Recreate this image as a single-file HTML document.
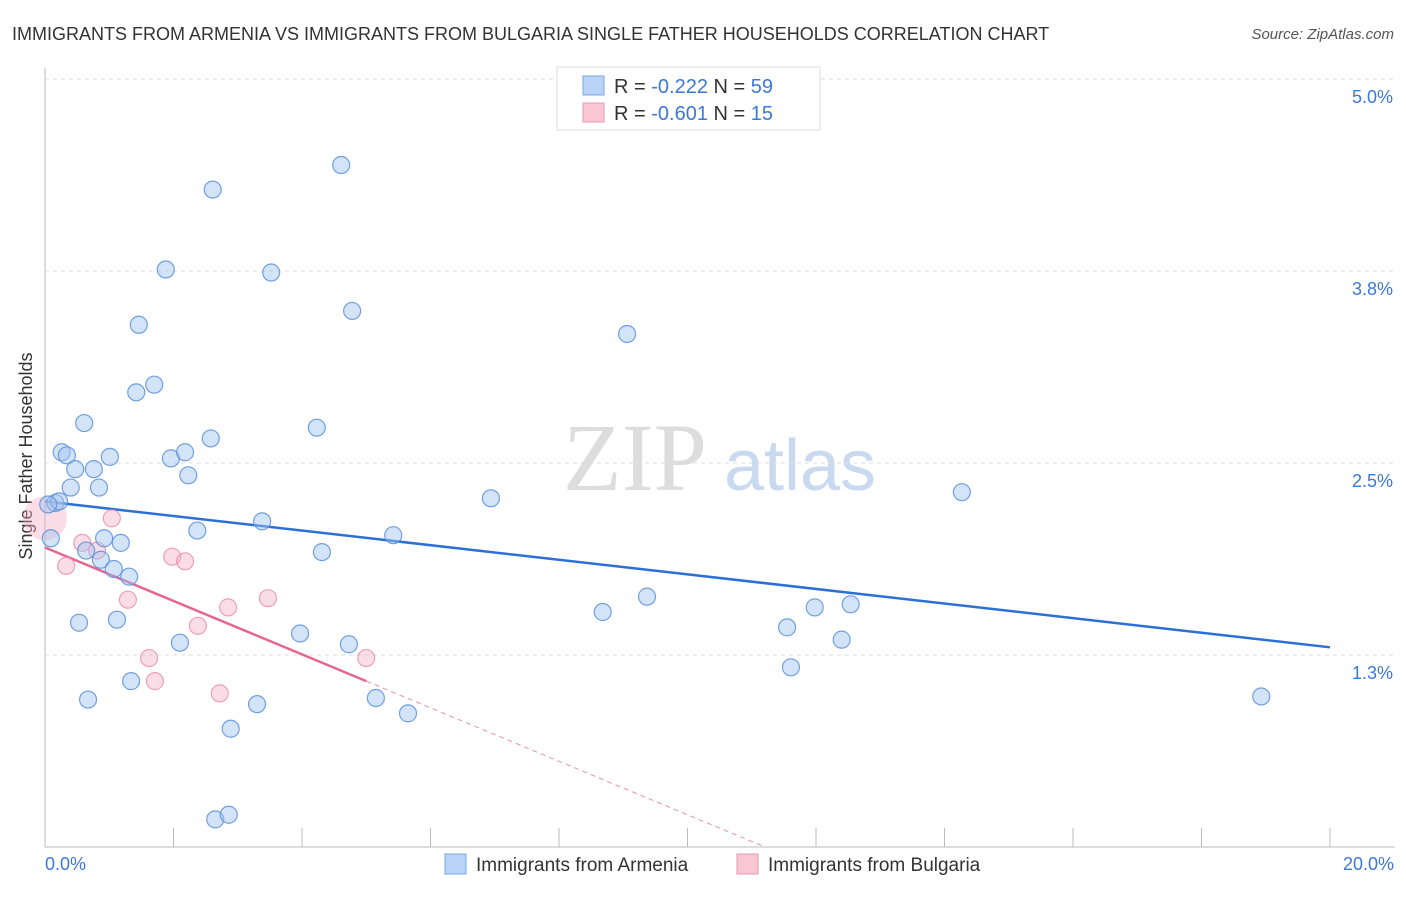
<!DOCTYPE html>
<html><head><meta charset="utf-8"><style>
body{margin:0;background:#fff;font-family:"Liberation Sans",sans-serif;}
</style></head><body>
<svg id="chart" width="1406" height="892" xmlns="http://www.w3.org/2000/svg">
<text x="12" y="40" font-size="18" fill="#333">IMMIGRANTS FROM ARMENIA VS IMMIGRANTS FROM BULGARIA SINGLE FATHER HOUSEHOLDS CORRELATION CHART</text>
<text x="1394" y="39" font-size="15" fill="#555" font-style="italic" text-anchor="end">Source: ZipAtlas.com</text>
<text x="32" y="456" font-size="18" fill="#333" text-anchor="middle" transform="rotate(-90 32 456)">Single Father Households</text>
<g><text x="635" y="490" font-size="96" fill="#ddd" font-family="Liberation Serif,serif" text-anchor="middle">ZIP</text><text x="800" y="490" font-size="72" fill="#c8d9f0" text-anchor="middle">atlas</text></g>
<g id="grid"></g><g id="axes"></g><g id="lines"></g><g id="pts"></g>
<g>
<rect x="557" y="67" width="263" height="63" fill="#fff" stroke="#ddd"/>
<rect x="583" y="76" width="21" height="19" fill="#b9d3f6" stroke="#7aa5e6"/>
<rect x="583" y="103" width="21" height="19" fill="#f9c6d4" stroke="#ec9ab3"/>
<text x="614" y="93" font-size="20" fill="#333">R = <tspan fill="#3b78d8">-0.222</tspan>   N = <tspan fill="#3b78d8">59</tspan></text>
<text x="614" y="120" font-size="20" fill="#333">R = <tspan fill="#3b78d8">-0.601</tspan>   N = <tspan fill="#3b78d8"> 15</tspan></text>
</g>
<g>
<rect x="445" y="854" width="21" height="20" fill="#b9d3f6" stroke="#7aa5e6"/>
<text x="476" y="871" font-size="19" fill="#333">Immigrants from Armenia</text>
<rect x="737" y="854" width="21" height="20" fill="#f9c6d4" stroke="#ec9ab3"/>
<text x="768" y="871" font-size="19" fill="#333">Immigrants from Bulgaria</text>
</g>
</svg>
<script>
const armeniaX=[4.61,2.61,1.88,3.52,1.46,4.78,9.06,1.70,1.42,0.61,4.23,2.58,0.26,0.34,1.01,1.96,2.18,0.47,0.76,2.23,0.84,0.40,6.94,14.27,0.16,0.22,0.05,3.38,2.37,5.42,0.09,0.92,1.18,0.64,4.31,0.87,1.07,1.31,9.37,8.68,11.98,12.54,0.53,1.12,11.55,3.97,2.10,4.73,12.40,11.61,1.34,5.15,0.67,3.30,5.65,18.93,2.89,2.65,2.86];
const armeniaY=[4.44,4.28,3.76,3.74,3.40,3.49,3.34,3.01,2.96,2.76,2.73,2.66,2.57,2.55,2.54,2.53,2.57,2.46,2.46,2.42,2.34,2.34,2.27,2.31,2.24,2.25,2.23,2.12,2.06,2.03,2.01,2.01,1.98,1.93,1.92,1.87,1.81,1.76,1.63,1.53,1.56,1.58,1.46,1.48,1.43,1.39,1.33,1.32,1.35,1.17,1.08,0.97,0.96,0.93,0.87,0.98,0.77,0.18,0.21];
const bulgariaX=[0,1.04,0.58,0.81,0.33,1.98,2.18,1.29,3.47,2.85,2.38,1.62,5.00,1.71,2.72];
const bulgariaY=[2.14,2.14,1.98,1.93,1.83,1.89,1.86,1.61,1.62,1.56,1.44,1.23,1.23,1.08,1.00];
const armeniaTrend=[2.25,1.30];
const bulgariaTrend=[1.95,1.08];
const yTicks=[5.0,3.75,2.5,1.25];
const yTickLabels=["5.0%","3.8%","2.5%","1.3%"];
const xTickLabels=["0.0%","20.0%"];
const NS="http://www.w3.org/2000/svg";
const sx=v=>45+v*64.25, sy=v=>847-v*153.6;
function mk(tag,attrs,parent){const e=document.createElementNS(NS,tag);for(const k in attrs)e.setAttribute(k,attrs[k]);document.getElementById(parent).appendChild(e);return e;}
yTicks.forEach((t,i)=>{
 const g=mk('line',{x1:45,x2:1395,y1:sy(t),y2:sy(t),stroke:'#ddd','stroke-dasharray':'4 4'},'grid');
 
 
 const l=mk('text',{x:1393,y:sy(t)+24,'font-size':18,fill:'#3b78d8','text-anchor':'end'},'axes');
 l.textContent=yTickLabels[i];
 
 
});
const ax=mk('line',{x1:45,x2:1395,y1:847,y2:847,stroke:'#bbb'},'axes');


const ay=mk('line',{x1:45,x2:45,y1:68,y2:847,stroke:'#bbb'},'axes');


for(let i=0;i<=10;i++){
 const t=mk('line',{x1:sx(i*2),x2:sx(i*2),y1:828,y2:847,stroke:'#bbb'},'axes');
 
 
}
[[0,'start',45],[20,'end',1394]].forEach((d,i)=>{
 const l=mk('text',{x:d[2],y:870,'font-size':18,fill:'#3b78d8','text-anchor':d[1]},'axes');
 l.textContent=xTickLabels[i];
 
 
});
const tb=mk('line',{x1:sx(0),y1:sy(armeniaTrend[0]),x2:sx(20),y2:sy(armeniaTrend[1]),stroke:'#2c6fd6','stroke-width':2.5},'lines');


const slope=(bulgariaTrend[1]-bulgariaTrend[0])/5, xz=-bulgariaTrend[0]/slope;
const tp=mk('line',{x1:sx(0),y1:sy(bulgariaTrend[0]),x2:sx(5),y2:sy(bulgariaTrend[1]),stroke:'#e5678f','stroke-width':2.5},'lines');


const td=mk('line',{x1:sx(5),y1:sy(bulgariaTrend[1]),x2:sx(xz),y2:sy(0),stroke:'#e890ab','stroke-width':1,'stroke-dasharray':'5 4'},'lines');


bulgariaX.forEach((x,i)=>{
 const c=mk('circle',{cx:sx(x),cy:sy(bulgariaY[i]),r:i===0?22:8.5,fill:'rgba(245,170,195,0.4)',stroke:i===0?'none':'rgba(232,140,170,0.8)','stroke-width':1.2},'pts');
 
 
});
armeniaX.forEach((x,i)=>{
 const c=mk('circle',{cx:sx(x),cy:sy(armeniaY[i]),r:8.5,fill:'rgba(160,195,240,0.45)',stroke:'rgba(90,145,220,0.85)','stroke-width':1.2},'pts');
 
 
});
</script>
</body></html>
